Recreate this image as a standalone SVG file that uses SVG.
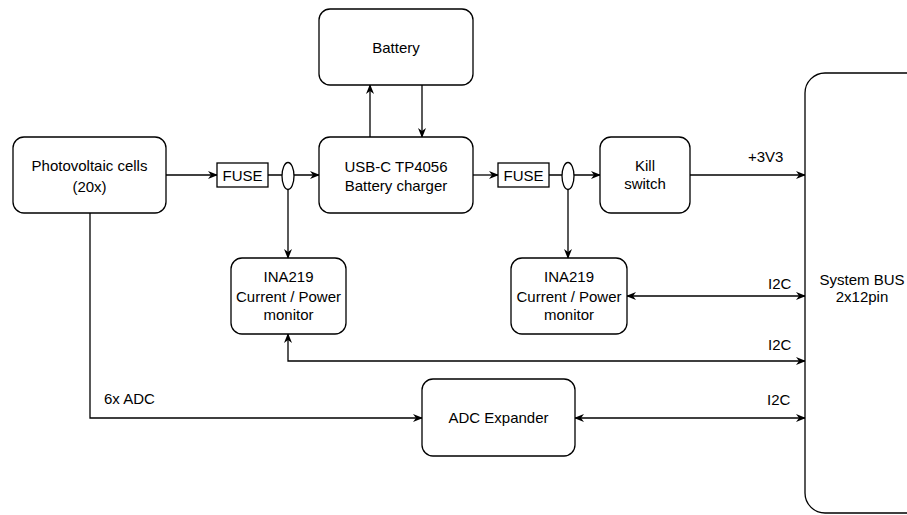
<svg xmlns="http://www.w3.org/2000/svg" width="907" height="515" viewBox="0 0 907 515">
<style>
.box{fill:#fff;stroke:#000;stroke-width:1.3}
.ln{fill:none;stroke:#000;stroke-width:1.3}
text{font-family:"Liberation Sans",Arial,sans-serif;font-size:15px;fill:#000}
.c{text-anchor:middle}
</style>
<defs>
<marker id="ah" viewBox="0 0 10 8" refX="9" refY="4" markerWidth="10" markerHeight="8" markerUnits="userSpaceOnUse" orient="auto-start-reverse">
<path d="M0,0 L10,4 L0,8 L3,4 z" fill="#000"/>
</marker>
</defs>
<rect width="907" height="515" fill="#fff"/>
<g id="connectors">
<path class="ln" d="M166,175 H217" marker-end="url(#ah)"/>
<path class="ln" d="M268,175 H319" marker-end="url(#ah)"/>
<path class="ln" d="M370,137 V85" marker-end="url(#ah)"/>
<path class="ln" d="M422,85 V137" marker-end="url(#ah)"/>
<path class="ln" d="M473,175 H498" marker-end="url(#ah)"/>
<path class="ln" d="M549,175 H600" marker-end="url(#ah)"/>
<path class="ln" d="M690,175 H805" marker-end="url(#ah)"/>
<path class="ln" d="M288,189 V258" marker-end="url(#ah)"/>
<path class="ln" d="M568,189 V258" marker-end="url(#ah)"/>
<path class="ln" d="M627,296 H805" marker-start="url(#ah)" marker-end="url(#ah)"/>
<path class="ln" d="M288,334 V361 H805" marker-start="url(#ah)" marker-end="url(#ah)"/>
<path class="ln" d="M575,418 H805" marker-start="url(#ah)" marker-end="url(#ah)"/>
<path class="ln" d="M90,213 V418 H422" marker-end="url(#ah)"/>
<text x="748" y="162">+3V3</text>
<text x="768" y="289">I2C</text>
<text x="768" y="350">I2C</text>
<text x="767" y="405">I2C</text>
<text x="104" y="404">6x ADC</text>
</g>
<g id="pv"><rect class="box" x="13" y="137" width="153" height="76" rx="11"/><text class="c" x="89.5" y="171">Photovoltaic cells</text><text class="c" x="89.5" y="192">(20x)</text></g>
<g id="fuse1"><rect class="box" x="217" y="163" width="51" height="24"/><text class="c" x="242.5" y="180.5">FUSE</text></g>
<g id="sense1"><ellipse class="box" cx="288" cy="176" rx="6" ry="13.5"/></g>
<g id="charger"><rect class="box" x="319" y="137" width="154" height="76" rx="11"/><text class="c" x="396" y="172">USB-C TP4056</text><text class="c" x="396" y="191">Battery charger</text></g>
<g id="battery"><rect class="box" x="319" y="9" width="154" height="76" rx="11"/><text class="c" x="396" y="53">Battery</text></g>
<g id="fuse2"><rect class="box" x="498" y="163" width="51" height="24"/><text class="c" x="523.5" y="180.5">FUSE</text></g>
<g id="sense2"><ellipse class="box" cx="568" cy="176" rx="6" ry="13.5"/></g>
<g id="kill"><rect class="box" x="600" y="137" width="90" height="76" rx="11"/><text class="c" x="645" y="171">Kill</text><text class="c" x="645" y="189">switch</text></g>
<g id="ina1"><rect class="box" x="231" y="258" width="115" height="76" rx="11"/><text class="c" x="288.5" y="282">INA219</text><text class="c" x="288.5" y="302">Current / Power</text><text class="c" x="288.5" y="320">monitor</text></g>
<g id="ina2"><rect class="box" x="511" y="258" width="116" height="76" rx="11"/><text class="c" x="569" y="282">INA219</text><text class="c" x="569" y="302">Current / Power</text><text class="c" x="569" y="320">monitor</text></g>
<g id="adc"><rect class="box" x="422" y="379" width="153" height="77" rx="11"/><text class="c" x="498.5" y="423">ADC Expander</text></g>
<g id="bus"><rect class="box" x="805" y="73" width="160" height="440" rx="20"/><text class="c" x="862" y="285">System BUS</text><text class="c" x="862" y="302">2x12pin</text></g>
</svg>
